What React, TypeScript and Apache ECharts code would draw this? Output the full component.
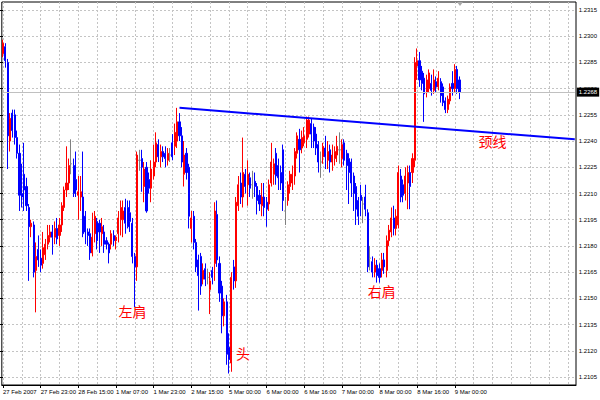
import React, { useEffect, useRef } from "react";
import * as echarts from "echarts";

// ---------- data ----------
const tickLabels = [
  "27 Feb 2007", "27 Feb 23:00", "28 Feb 15:00", "1 Mar 07:00", "1 Mar 23:00",
  "2 Mar 15:00", "5 Mar 00:00", "6 Mar 00:00", "6 Mar 16:00", "7 Mar 00:00",
  "8 Mar 00:00", "8 Mar 16:00", "9 Mar 00:00",
];
const barsPerLabel = 16;
const barsPerGridLine = 8;
const slotCount = 244;

const open = [
  1.2290, 1.2294, 1.2285, 1.2240, 1.2256, 1.2255, 1.2242, 1.2233, 1.2210, 1.2221,
  1.2214, 1.2202, 1.2191, 1.2192, 1.2166, 1.2178, 1.2173, 1.2170, 1.2175, 1.2181,
  1.2185, 1.2188, 1.2185, 1.2190, 1.2186, 1.2192, 1.2202, 1.2212, 1.2216, 1.2227,
  1.2226, 1.2218, 1.2209, 1.2208, 1.2208, 1.2197, 1.2188, 1.2187, 1.2176, 1.2187,
  1.2194, 1.2193, 1.2187, 1.2188, 1.2183, 1.2181, 1.2181, 1.2186, 1.2183, 1.2187,
  1.2195, 1.2195, 1.2202, 1.2202, 1.2199, 1.2193, 1.2174, 1.2168, 1.2229, 1.2230,
  1.2214, 1.2225, 1.2218, 1.2213, 1.2220, 1.2228, 1.2238, 1.2231, 1.2234, 1.2233,
  1.2229, 1.2232, 1.2239, 1.2237, 1.2240, 1.2251, 1.2243, 1.2221, 1.2233, 1.2225,
  1.2190, 1.2197, 1.2182, 1.2172, 1.2174, 1.2161, 1.2167, 1.2162, 1.2155, 1.2166,
  1.2170, 1.2198, 1.2170, 1.2157, 1.2140, 1.2148, 1.2122, 1.2113, 1.2168, 1.2160,
  1.2203, 1.2216, 1.2208, 1.2221, 1.2215, 1.2219, 1.2215, 1.2217, 1.2214, 1.2209,
  1.2203, 1.2208, 1.2205, 1.2204, 1.2216, 1.2221, 1.2233, 1.2226, 1.2222, 1.2235,
  1.2200, 1.2206, 1.2214, 1.2216, 1.2220, 1.2233, 1.2241, 1.2236, 1.2239, 1.2241,
  1.2244, 1.2250, 1.2248, 1.2244, 1.2238, 1.2228, 1.2231, 1.2236, 1.2229, 1.2235,
  1.2228, 1.2230, 1.2232, 1.2235, 1.2230, 1.2239, 1.2233, 1.2230, 1.2228, 1.2220,
  1.2214, 1.2206, 1.2209, 1.2204, 1.2208, 1.2199, 1.2173, 1.2171, 1.2165, 1.2169,
  1.2167, 1.2166, 1.2172, 1.2166, 1.2183, 1.2188, 1.2196, 1.2190, 1.2192, 1.2220,
  1.2215, 1.2210, 1.2216, 1.2222, 1.2222, 1.2229, 1.2283, 1.2286, 1.2280, 1.2276,
  1.2268, 1.2270, 1.2273, 1.2269, 1.2274, 1.2271, 1.2274, 1.2271, 1.2263, 1.2258,
  1.2263, 1.2273, 1.2270, 1.2281, 1.2275,
];
const close = [
  1.2296, 1.2286, 1.2243, 1.2253, 1.2246, 1.2242, 1.2233, 1.2209, 1.2208, 1.2212,
  1.2203, 1.2191, 1.2193, 1.2165, 1.2174, 1.2172, 1.2169, 1.2179, 1.2181, 1.2186,
  1.2188, 1.2185, 1.2190, 1.2184, 1.2192, 1.2203, 1.2212, 1.2216, 1.2226, 1.2227,
  1.2210, 1.2212, 1.2211, 1.2211, 1.2187, 1.2188, 1.2186, 1.2176, 1.2185, 1.2197,
  1.2183, 1.2188, 1.2191, 1.2181, 1.2181, 1.2176, 1.2187, 1.2183, 1.2185, 1.2196,
  1.2202, 1.2200, 1.2193, 1.2191, 1.2194, 1.2174, 1.2168, 1.2232, 1.2229, 1.2225,
  1.2224, 1.2200, 1.2213, 1.2224, 1.2228, 1.2239, 1.2231, 1.2234, 1.2231, 1.2230,
  1.2233, 1.2232, 1.2231, 1.2245, 1.2251, 1.2243, 1.2228, 1.2232, 1.2222, 1.2197,
  1.2196, 1.2182, 1.2168, 1.2163, 1.2157, 1.2166, 1.2161, 1.2162, 1.2160, 1.2162,
  1.2200, 1.2172, 1.2153, 1.2140, 1.2148, 1.2118, 1.2115, 1.2162, 1.2160, 1.2205,
  1.2215, 1.2208, 1.2222, 1.2214, 1.2221, 1.2213, 1.2215, 1.2214, 1.2206, 1.2204,
  1.2208, 1.2202, 1.2201, 1.2215, 1.2228, 1.2227, 1.2220, 1.2219, 1.2216, 1.2206,
  1.2200, 1.2215, 1.2221, 1.2221, 1.2234, 1.2243, 1.2235, 1.2242, 1.2243, 1.2252,
  1.2252, 1.2244, 1.2240, 1.2236, 1.2228, 1.2228, 1.2237, 1.2231, 1.2234, 1.2228,
  1.2232, 1.2234, 1.2237, 1.2235, 1.2238, 1.2229, 1.2226, 1.2222, 1.2216, 1.2210,
  1.2201, 1.2197, 1.2206, 1.2204, 1.2201, 1.2168, 1.2173, 1.2165, 1.2169, 1.2163,
  1.2162, 1.2172, 1.2168, 1.2183, 1.2189, 1.2196, 1.2190, 1.2197, 1.2222, 1.2208,
  1.2209, 1.2220, 1.2222, 1.2214, 1.2230, 1.2285, 1.2286, 1.2275, 1.2273, 1.2267,
  1.2275, 1.2279, 1.2269, 1.2275, 1.2271, 1.2276, 1.2266, 1.2262, 1.2258, 1.2264,
  1.2271, 1.2270, 1.2281, 1.2270, 1.2268,
];
const high = [
  1.2298, 1.2296, 1.2287, 1.2256, 1.2258, 1.2258, 1.2246, 1.2238, 1.2227, 1.2239,
  1.2219, 1.2204, 1.2195, 1.2194, 1.2182, 1.2186, 1.2178, 1.2188, 1.2184, 1.2192,
  1.2192, 1.2192, 1.2194, 1.2196, 1.2196, 1.2205, 1.2214, 1.2237, 1.2230, 1.2241,
  1.2230, 1.2234, 1.2220, 1.2220, 1.2234, 1.2200, 1.2190, 1.2190, 1.2199, 1.2200,
  1.2196, 1.2195, 1.2196, 1.2192, 1.2185, 1.2182, 1.2189, 1.2189, 1.2186, 1.2200,
  1.2206, 1.2206, 1.2207, 1.2206, 1.2206, 1.2196, 1.2176, 1.2234, 1.2235, 1.2235,
  1.2228, 1.2228, 1.2222, 1.2229, 1.2238, 1.2245, 1.2241, 1.2238, 1.2237, 1.2237,
  1.2236, 1.2236, 1.2244, 1.2250, 1.2259, 1.2256, 1.2248, 1.2240, 1.2236, 1.2227,
  1.2200, 1.2200, 1.2184, 1.2175, 1.2176, 1.2170, 1.2170, 1.2167, 1.2165, 1.2168,
  1.2205, 1.2206, 1.2174, 1.2160, 1.2150, 1.2152, 1.2130, 1.2165, 1.2172, 1.2208,
  1.2220, 1.2222, 1.2242, 1.2224, 1.2229, 1.2222, 1.2223, 1.2222, 1.2216, 1.2212,
  1.2216, 1.2216, 1.2208, 1.2218, 1.2239, 1.2230, 1.2236, 1.2230, 1.2226, 1.2238,
  1.2208, 1.2217, 1.2223, 1.2226, 1.2236, 1.2245, 1.2247, 1.2246, 1.2248, 1.2254,
  1.2254, 1.2253, 1.2250, 1.2248, 1.2240, 1.2234, 1.2239, 1.2243, 1.2240, 1.2238,
  1.2238, 1.2237, 1.2243, 1.2245, 1.2241, 1.2241, 1.2235, 1.2233, 1.2230, 1.2222,
  1.2216, 1.2208, 1.2215, 1.2208, 1.2215, 1.2201, 1.2180, 1.2174, 1.2173, 1.2172,
  1.2170, 1.2176, 1.2176, 1.2186, 1.2192, 1.2202, 1.2203, 1.2201, 1.2226, 1.2224,
  1.2218, 1.2225, 1.2226, 1.2226, 1.2233, 1.2288, 1.2293, 1.2291, 1.2283, 1.2279,
  1.2278, 1.2281, 1.2278, 1.2281, 1.2277, 1.2280, 1.2276, 1.2273, 1.2265, 1.2266,
  1.2273, 1.2280, 1.2284, 1.2283, 1.2277,
];
const low = [
  1.2288, 1.2282, 1.2224, 1.2234, 1.2242, 1.2238, 1.2230, 1.2200, 1.2202, 1.2200,
  1.2200, 1.2160, 1.2185, 1.2162, 1.2142, 1.2168, 1.2165, 1.2167, 1.2172, 1.2178,
  1.2182, 1.2175, 1.2181, 1.2181, 1.2180, 1.2188, 1.2200, 1.2208, 1.2212, 1.2221,
  1.2208, 1.2208, 1.2195, 1.2200, 1.2185, 1.2181, 1.2180, 1.2172, 1.2174, 1.2182,
  1.2178, 1.2176, 1.2180, 1.2176, 1.2178, 1.2170, 1.2178, 1.2180, 1.2178, 1.2182,
  1.2186, 1.2185, 1.2187, 1.2190, 1.2188, 1.2170, 1.2145, 1.2160, 1.2223, 1.2211,
  1.2205, 1.2199, 1.2210, 1.2205, 1.2218, 1.2225, 1.2228, 1.2225, 1.2228, 1.2225,
  1.2226, 1.2228, 1.2229, 1.2232, 1.2236, 1.2240, 1.2225, 1.2214, 1.2218, 1.2190,
  1.2182, 1.2178, 1.2165, 1.2143, 1.2152, 1.2158, 1.2157, 1.2158, 1.2141, 1.2158,
  1.2160, 1.2168, 1.2148, 1.2130, 1.2134, 1.2112, 1.2107, 1.2108, 1.2155, 1.2156,
  1.2200, 1.2204, 1.2202, 1.2210, 1.2203, 1.2208, 1.2207, 1.2208, 1.2198, 1.2200,
  1.2197, 1.2197, 1.2191, 1.2200, 1.2214, 1.2215, 1.2215, 1.2212, 1.2212, 1.2200,
  1.2192, 1.2203, 1.2210, 1.2212, 1.2215, 1.2230, 1.2222, 1.2233, 1.2237, 1.2236,
  1.2242, 1.2236, 1.2236, 1.2232, 1.2222, 1.2219, 1.2227, 1.2224, 1.2224, 1.2222,
  1.2223, 1.2226, 1.2228, 1.2227, 1.2225, 1.2226, 1.2212, 1.2204, 1.2208, 1.2200,
  1.2192, 1.2192, 1.2197, 1.2193, 1.2197, 1.2165, 1.2166, 1.2162, 1.2162, 1.2159,
  1.2159, 1.2162, 1.2164, 1.2162, 1.2180, 1.2185, 1.2186, 1.2186, 1.2190, 1.2205,
  1.2205, 1.2206, 1.2201, 1.2201, 1.2216, 1.2225, 1.2275, 1.2271, 1.2269, 1.2251,
  1.2265, 1.2268, 1.2266, 1.2267, 1.2268, 1.2269, 1.2262, 1.2260, 1.2256, 1.2256,
  1.2261, 1.2266, 1.2268, 1.2267, 1.2264,
];

const lastPrice = 1.2268;
const necklineStart = { index: 75, price: 1.2259 };
const necklineEnd = { index: 243, price: 1.2241 };
const annotationTexts = ["左肩", "头", "右肩", "颈线"];
const annotationIndex = [55, 102, 161, 208];
const annotationPrice = [1.2143, 1.2119, 1.2154, 1.2240];

const yMin = 1.2105;
const yMax = 1.2315;
const yStep = 0.0015;

const FONT = "'Liberation Sans', Arial, sans-serif";
const CJK = "'Noto Sans CJK SC', sans-serif";

export default function App() {
  const ref = useRef<HTMLDivElement>(null);

  useEffect(() => {
    if (!ref.current) return;
    const chart = echarts.init(ref.current, null, { renderer: "svg" });

    const showLabel = (i: number) =>
      i % barsPerLabel === 0 && i / barsPerLabel < tickLabels.length;
    const categories = Array.from({ length: slotCount }, (_, i) =>
      showLabel(i) ? tickLabels[i / barsPerLabel] : "b" + i
    );
    const data = open.map((o, i) => [o, close[i], low[i], high[i]]);

    // main grid spans y 2..385; label grid spans y 10..377
    const gridTop = 2;
    const gridBottomY = 385;
    const pad = 8;
    const labelSpan = gridBottomY - gridTop - 2 * pad;
    const perPx = (yMax - yMin) / labelSpan;
    const dataMax = yMax + pad * perPx;
    const dataMin = yMin - pad * perPx;

    const option: any = {
      animation: false,
      backgroundColor: "#ffffff",
      grid: [
        {
          left: 0,
          right: 24,
          top: gridTop,
          bottom: 400 - gridBottomY,
          show: true,
          borderColor: "#000000",
          borderWidth: 1,
          backgroundColor: "transparent",
        },
        {
          left: 0,
          right: 24,
          top: gridTop + pad,
          bottom: 400 - gridBottomY + pad,
        },
      ],
      xAxis: [
        {
          type: "category",
          gridIndex: 0,
          data: categories,
          boundaryGap: true,
          axisLine: { show: true, lineStyle: { color: "#000000", width: 1 } },
          axisTick: {
            show: true,
            alignWithLabel: true,
            interval: (i: number) => showLabel(i),
            length: 3,
            lineStyle: { color: "#000000" },
          },
          axisLabel: {
            show: true,
            showMinLabel: true,
            interval: (i: number) => showLabel(i),
            align: "left",
            fontSize: 6,
            fontFamily: FONT,
            color: "#000000",
            margin: 4,
          },
          splitLine: {
            show: true,
            alignWithLabel: true,
            interval: (i: number) => i % barsPerGridLine === 0,
            lineStyle: { color: "#c4c4c4", type: [2, 2], width: 1 },
          },
        },
        { type: "value", gridIndex: 1, show: false, min: 0, max: 1 },
      ],
      yAxis: [
        { type: "value", gridIndex: 0, min: dataMin, max: dataMax, show: false },
        {
          type: "value",
          gridIndex: 1,
          position: "right",
          min: yMin,
          max: yMax,
          interval: yStep,
          axisLine: { show: false },
          axisTick: { show: true, length: 3, lineStyle: { color: "#000000" } },
          axisLabel: {
            formatter: (v: number) => v.toFixed(4),
            fontSize: 6,
            fontFamily: FONT,
            color: "#000000",
            margin: 3,
          },
          splitLine: {
            show: true,
            lineStyle: { color: "#c4c4c4", type: [2, 2], width: 1 },
          },
        },
      ],
      series: [
        {
          type: "candlestick",
          xAxisIndex: 0,
          yAxisIndex: 0,
          data,
          barWidth: 1.6,
          itemStyle: {
            color: "#ff0000",
            color0: "#0000ff",
            borderColor: "#ff0000",
            borderColor0: "#0000ff",
            borderColorDoji: "#808080",
            borderWidth: 1,
          },
          markLine: {
            silent: true,
            symbol: ["none", "none"],
            animation: false,
            data: [
              [
                {
                  coord: [0, lastPrice],
                  lineStyle: { color: "#c0c0c0", width: 1, type: "solid" },
                  label: {
                    show: true,
                    position: "end",
                    formatter: lastPrice.toFixed(4),
                    color: "#ffffff",
                    backgroundColor: "#000000",
                    padding: [2, 2, 1, 2],
                    fontSize: 6,
                    fontFamily: FONT,
                    distance: 2,
                  },
                },
                { coord: [slotCount - 1, lastPrice] },
              ],
              [
                {
                  coord: [necklineStart.index, necklineStart.price],
                  lineStyle: { color: "#0000ff", width: 2, type: "solid" },
                  label: { show: false },
                },
                { coord: [necklineEnd.index, necklineEnd.price] },
              ],
            ],
          },
          markPoint: {
            silent: true,
            symbol: "circle",
            symbolSize: 0,
            animation: false,
            label: {
              show: true,
              position: "inside",
              color: "#ff0000",
              fontSize: 14,
              fontFamily: CJK,
              formatter: (p: any) => p.name,
            },
            data: annotationTexts.map((t, k) => ({
              name: t,
              coord: [annotationIndex[k], annotationPrice[k]],
            })),
          },
        },
      ],
      graphic: [
        {
          type: "polygon",
          shape: { points: [[457, 2], [463, 2], [460, 6]] },
          style: { fill: "#a8a8a8" },
          silent: true,
        },
      ],
    };

    chart.setOption(option);
    return () => chart.dispose();
  }, []);

  return (
    <div
      ref={ref}
      style={{ position: "fixed", left: 0, top: 0, width: 600, height: 400 }}
    />
  );
}
